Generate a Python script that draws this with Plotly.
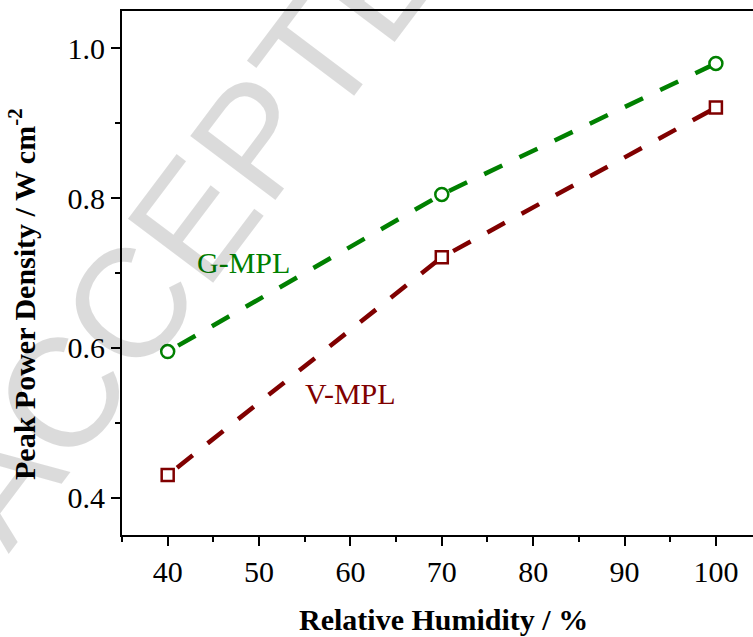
import plotly.graph_objects as go

# Relative humidity (%) and peak power density (W cm^-2) for the two MPL types
humidity = [40, 70, 100]
g_mpl = [0.595, 0.805, 0.980]
v_mpl = [0.430, 0.721, 0.921]

GREEN = "#008000"
DARKRED = "#800000"
SERIF = "Liberation Serif, Times New Roman, serif"

fig = go.Figure()

fig.add_trace(go.Scatter(
    x=humidity, y=g_mpl, mode="lines+markers", name="G-MPL",
    line=dict(color=GREEN, width=4.5, dash="0px,12px,20px,7px"),
    marker=dict(symbol="circle", size=13, color="white",
                line=dict(color=GREEN, width=2.5)),
    showlegend=False,
))
fig.add_trace(go.Scatter(
    x=humidity, y=v_mpl, mode="lines+markers", name="V-MPL",
    line=dict(color=DARKRED, width=4.5, dash="0px,12px,20px,7px"),
    marker=dict(symbol="square", size=12, color="white",
                line=dict(color=DARKRED, width=2.5)),
    showlegend=False,
))

# Series labels
fig.add_annotation(x=48.26, y=0.714, text="G-MPL", showarrow=False,
                   font=dict(family=SERIF, size=30, color=GREEN))
fig.add_annotation(x=59.97, y=0.539, text="V-MPL", showarrow=False,
                   font=dict(family=SERIF, size=30, color=DARKRED))

# Diagonal manuscript watermark
fig.add_annotation(xref="paper", yref="paper", x=0.156, y=0.668,
                   text="ACCEPTED", showarrow=False, textangle=-53,
                   xanchor="center", yanchor="middle",
                   font=dict(family="Liberation Sans, Arial, sans-serif",
                             size=155, color="rgba(0,0,0,0.14)"))

# Axis titles
fig.add_annotation(xref="paper", yref="paper", x=0.509, y=0, yshift=-84,
                   text="<b>Relative Humidity / %</b>", showarrow=False,
                   xanchor="center", yanchor="middle",
                   font=dict(family=SERIF, size=30, color="black"))
fig.add_annotation(xref="paper", yref="paper", x=0, xshift=-100, y=0.46,
                   text="<b>Peak Power Density / W cm<sup>-2</sup></b>",
                   showarrow=False, textangle=-90,
                   xanchor="center", yanchor="middle",
                   font=dict(family=SERIF, size=30, color="black"))

fig.update_layout(
    width=753, height=637,
    margin=dict(l=122, r=0, t=11, b=102),
    paper_bgcolor="white", plot_bgcolor="white",
    font=dict(family=SERIF, size=30, color="black"),
)

fig.update_xaxes(
    range=[35, 104.06], tickvals=[40, 50, 60, 70, 80, 90, 100],
    showgrid=False, zeroline=False,
    showline=True, linecolor="black", linewidth=2, mirror=True,
    ticks="outside", ticklen=9, tickwidth=2, tickcolor="black",
    minor=dict(dtick=5, tick0=35, ticks="outside", ticklen=5, tickwidth=2,
               tickcolor="black"),
    tickfont=dict(family=SERIF, size=30),
)
fig.update_yaxes(
    range=[0.35, 1.05], tickvals=[0.4, 0.6, 0.8, 1.0], tickformat=".1f",
    showgrid=False, zeroline=False,
    showline=True, linecolor="black", linewidth=2,
    ticks="outside", ticklen=9, tickwidth=2, tickcolor="black",
    minor=dict(dtick=0.1, tick0=0.4, ticks="outside", ticklen=5, tickwidth=2,
               tickcolor="black"),
    tickfont=dict(family=SERIF, size=30),
)

fig.write_html("out.html")
